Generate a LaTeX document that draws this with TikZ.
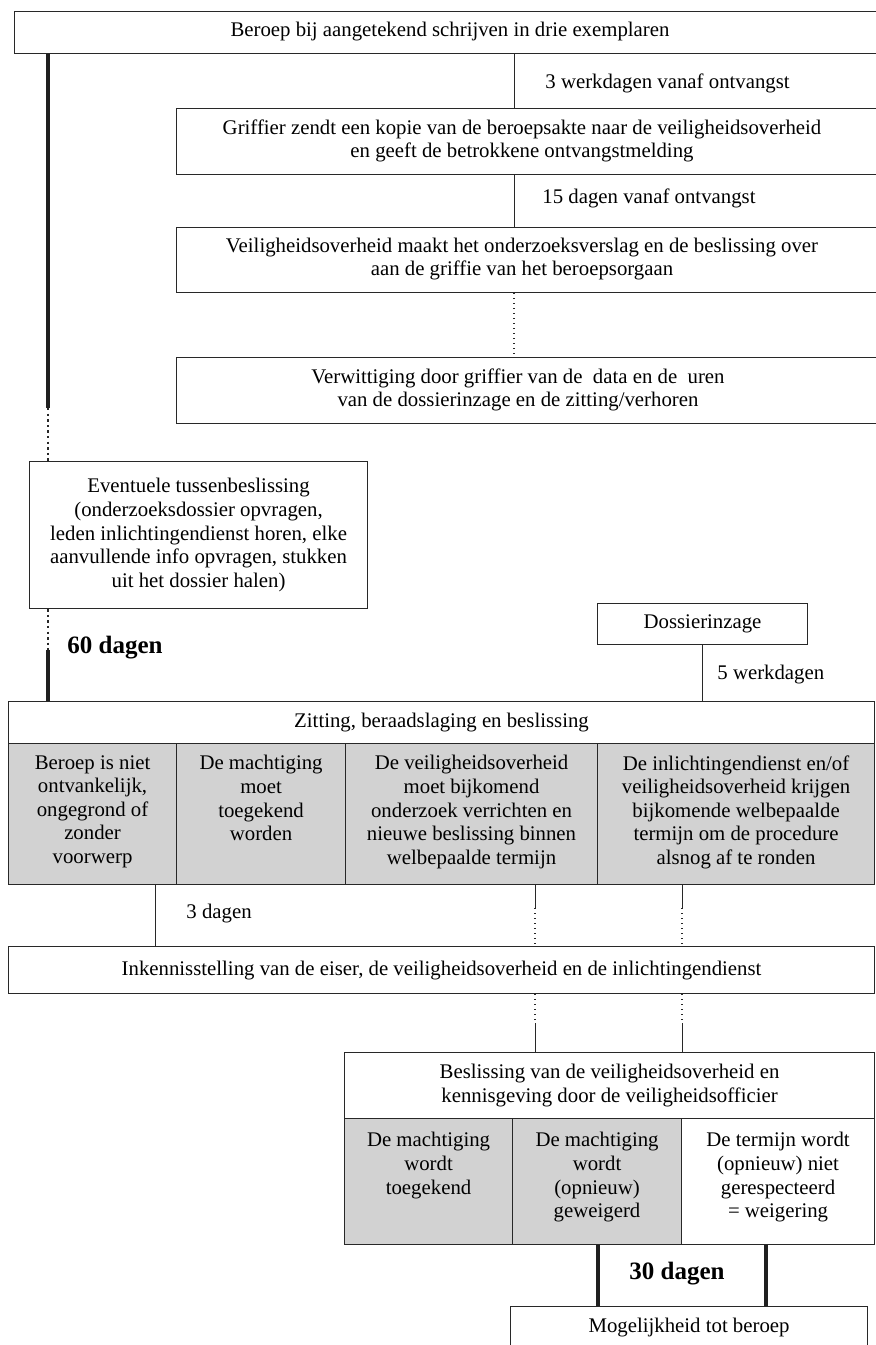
\documentclass[tikz,border=0pt]{standalone}
\usepackage{fontspec}
\setmainfont{Liberation Serif}
\definecolor{linec}{RGB}{40,40,40}
\definecolor{cellgrey}{RGB}{210,210,210}
\newcommand{\mainfnt}{\fontsize{10.4}{11.8}\selectfont}
\newcommand{\boldfnt}{\fontsize{12.5}{14}\selectfont\bfseries}
\begin{document}
\begin{tikzpicture}[x=0.5pt,y=-0.5pt,
  box/.style={draw=linec, line width=0.55pt, fill=white, inner sep=0pt, anchor=north west, align=center, font=\mainfnt},
  greycell/.style={box, fill=cellgrey},
  celltext/.style={inner sep=0pt, anchor=north, align=center, font=\mainfnt},
  lbl/.style={inner sep=0pt, anchor=west, font=\mainfnt},
  conn/.style={draw=linec, line width=0.5pt},
  dotconn/.style={draw=linec, line width=0.6pt, dash pattern=on 0.6pt off 1.9pt},
  thickconn/.style={draw=linec!80!black, line width=2pt},
  thickdot/.style={draw=linec, line width=1.2pt, dash pattern=on 1.2pt off 1.6pt}
]
\useasboundingbox (0,0) rectangle (875,1345);

% coordinates for connector columns
\coordinate (kL) at (48,0);
\coordinate (kM) at (514,0);
\coordinate (kT) at (48,408);
\coordinate (kU) at (48,650);
\coordinate (k3) at (155,0);
\coordinate (kA1) at (535,908);
\coordinate (kA2) at (535,1023);
\coordinate (kB1) at (682,908);
\coordinate (kB2) at (682,1023);
\coordinate (kC) at (598,0);
\coordinate (kD) at (766,0);

% boxes
\node[box, minimum width=436pt, minimum height=21pt] (top) at (14,11) {};
\node[font=\mainfnt, inner sep=0pt] (topt) at (450,32) {Beroep bij aangetekend schrijven in drie exemplaren};

\node[box, minimum width=355pt, minimum height=33pt] (grif) at (176,108) {};
\node[celltext, anchor=center] (grift) at (522,141) {Griffier zendt een kopie van de beroepsakte naar de veiligheidsoverheid\\en geeft de betrokkene ontvangstmelding};

\node[box, minimum width=355pt, minimum height=32.5pt] (veil) at (176,227) {};
\node[celltext, anchor=center] (veilt) at (522,259) {Veiligheidsoverheid maakt het onderzoeksverslag en de beslissing over\\aan de griffie van het beroepsorgaan};

\node[box, minimum width=355pt, minimum height=33pt] (verw) at (176,357) {};
\node[celltext, anchor=center] (verwt) at (518,390) {Verwittiging door griffier van de\ \ data en de\ \ uren\\van de dossierinzage en de zitting/verhoren};

\node[box, minimum width=169pt, minimum height=73.5pt] (event) at (29,461) {Eventuele tussenbeslissing\\(onderzoeksdossier opvragen,\\leden inlichtingendienst horen, elke\\aanvullende info opvragen, stukken\\uit het dossier halen)};

\node[box, minimum width=105pt, minimum height=20.5pt] (doss) at (597,603) {Dossierinzage};

\node[box, minimum width=433pt, minimum height=21pt] (zit) at (8,701) {Zitting, beraadslaging en beslissing};
\node[greycell, minimum width=84pt, minimum height=70.5pt] (c1) at (8,743) {};
\node[greycell, minimum width=84.5pt, minimum height=70.5pt] (c2) at (176,743) {};
\node[greycell, minimum width=126pt, minimum height=70.5pt] (c3) at (345,743) {};
\node[greycell, minimum width=138.5pt, minimum height=70.5pt] (c4) at (597,743) {};
\node[celltext] (c1t) at ([yshift=-6pt]c1.north) {Beroep is niet\\ontvankelijk,\\ongegrond of\\zonder\\voorwerp};
\node[celltext] (c2t) at ([yshift=-6pt]c2.north) {De machtiging\\moet\\toegekend\\worden};
\node[celltext] (c3t) at ([yshift=-6pt]c3.north) {De veiligheidsoverheid\\moet bijkomend\\onderzoek verrichten en\\nieuwe beslissing binnen\\welbepaalde termijn};
\node[celltext] (c4t) at ([yshift=-6pt]c4.north) {De inlichtingendienst en/of\\veiligheidsoverheid krijgen\\bijkomende welbepaalde\\termijn om de procedure\\alsnog af te ronden};

\node[box, minimum width=433pt, minimum height=23.5pt] (ink) at (8,946) {Inkennisstelling van de eiser, de veiligheidsoverheid en de inlichtingendienst};

\node[box, minimum width=265pt, minimum height=33pt] (besl) at (344,1052) {Beslissing van de veiligheidsoverheid en\\kennisgeving door de veiligheidsofficier};
\node[greycell, minimum width=84pt, minimum height=63pt] (d1) at (344,1118) {};
\node[greycell, minimum width=84.5pt, minimum height=63pt] (d2) at (512,1118) {};
\node[box, minimum width=96.5pt, minimum height=63pt] (d3) at (681,1118) {};
\node[celltext] (d1t) at ([yshift=-7pt]d1.north) {De machtiging\\wordt\\toegekend};
\node[celltext] (d2t) at ([yshift=-7pt]d2.north) {De machtiging\\wordt\\(opnieuw)\\geweigerd};
\node[celltext] (d3t) at ([yshift=-7pt]d3.north) {De termijn wordt\\(opnieuw) niet\\gerespecteerd\\= weigering};

\node[box, minimum width=178.5pt, minimum height=21pt] (mog) at (510,1306) {Mogelijkheid tot beroep};

% connectors
\draw[thickconn] (top.south -| kL) -- (kT);
\draw[thickdot] (kT) -- (kT |- event.north);
\draw[thickdot] (event.south -| kU) -- (kU);
\draw[thickconn] (kU) -- (kU |- zit.north);

\draw[conn] (top.south -| kM) -- (grif.north -| kM);
\draw[conn] (grif.south -| kM) -- (veil.north -| kM);
\draw[dotconn] (veil.south -| kM) -- (verw.north -| kM);

\draw[conn] (doss.south) -- (doss.south |- zit.north);

\draw[conn] (c1.south -| k3) -- (ink.north -| k3);

\draw[conn] (c3.south -| kA1) -- (kA1);
\draw[dotconn] (kA1) -- (ink.north -| kA1);
\draw[dotconn] (ink.south -| kA2) -- (kA2);
\draw[conn] (kA2) -- (besl.north -| kA2);

\draw[conn] (c4.south -| kB1) -- (kB1);
\draw[dotconn] (kB1) -- (ink.north -| kB1);
\draw[dotconn] (ink.south -| kB2) -- (kB2);
\draw[conn] (kB2) -- (besl.north -| kB2);

\draw[thickconn] (d2.south -| kC) -- (mog.north -| kC);
\draw[thickconn] (d3.south -| kD) -- (mog.north -| kD);

% labels
\node[lbl] (l1) at (545,83) {3 werkdagen vanaf ontvangst};
\node[lbl] (l2) at (542,198) {15 dagen vanaf ontvangst};
\node[lbl, font=\boldfnt] (l60) at (67,648) {60 dagen};
\node[lbl] (l5) at (717,675) {5 werkdagen};
\node[lbl] (l3) at (186,914) {3 dagen};
\node[font=\boldfnt, inner sep=0pt] (l30) at (677,1274) {30 dagen};
\end{tikzpicture}
\end{document}
